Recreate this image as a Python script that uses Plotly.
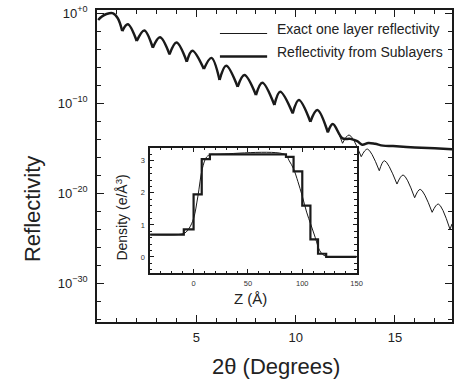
import plotly.graph_objects as go

# ---------------- main plot data: 2theta (deg) vs log10(reflectivity) ----------------
head_deg = [0.06, 0.23, 0.48, 0.81, 1.05, 1.27]
head_log = [-0.74, -0.38, -0.08, 0.0, -0.56, -1.97]

# fringe minima (cusps) and maxima shared by both curves
cusp_deg = [1.27, 2.00, 2.81, 3.65, 4.52, 5.38, 6.17, 7.08, 8.00, 8.93, 9.85, 10.74, 11.62]
cusp_log = [-1.97, -3.08, -3.82, -4.56, -5.38, -6.19, -7.41, -8.16, -9.08, -10.19, -11.11, -12.04, -13.22]
peak_deg = [1.55, 2.38, 3.17, 4.00, 4.80, 5.76, 6.50, 7.42, 8.32, 9.22, 10.16, 11.09, 11.87]
peak_log = [-1.22, -1.90, -2.67, -3.25, -4.15, -4.95, -5.82, -6.86, -7.71, -8.71, -9.63, -10.74, -12.30]

# sublayer reflectivity tail
sub_tail_deg = [12.36, 12.75, 13.10, 13.35, 13.66, 14.00, 14.40, 14.90, 16.00, 17.00, 17.87]
sub_tail_log = [-13.90, -13.95, -14.20, -14.60, -14.40, -14.50, -14.70, -14.75, -14.90, -15.00, -15.10]

# exact one-layer reflectivity continuation
exact_cusp_deg = [12.36, 13.30, 14.21, 15.10, 15.99, 16.87, 17.77]
exact_cusp_log = [-14.44, -15.93, -17.49, -18.97, -20.49, -22.11, -24.00]
exact_peak_deg = [12.69, 13.61, 14.47, 15.41, 16.27, 17.18]
exact_peak_log = [-13.52, -15.08, -16.38, -17.97, -19.56, -21.19]
exact_end_deg = [17.87]
exact_end_log = [-23.40]

y_tickvals = [0, -10, -20, -30]
y_ticktext = ["10<sup>+0</sup>", "10<sup>\u221210</sup>", "10<sup>\u221220</sup>", "10<sup>\u221230</sup>"]
x_tickvals = [5, 10, 15]

# ---------------- inset data: density profile ----------------
step_z = [-40, -9, 0, 7.5, 15, 85, 92, 100, 107.5, 114.5, 122, 150]
step_rho = [0.70, 0.86, 1.95, 3.05, 3.20, 3.12, 2.67, 1.60, 0.55, 0.10, 0.00, 0.00]
smooth_z = [-40, -14, -8, -4, 0, 4, 8, 12, 16, 20, 84, 88, 92, 96, 100, 104, 108, 112, 116, 120, 126, 150]
smooth_rho = [0.70, 0.70, 0.75, 0.90, 1.20, 1.90, 2.75, 3.12, 3.20, 3.20, 3.20, 3.00, 2.75, 2.35, 1.90, 1.40, 1.00, 0.60, 0.20, 0.05, 0.00, 0.00]


def arch_segments(cd, cl, pd, pl, n):
    xs, ys = [], []
    for i in range(n):
        xs += [cd[i], pd[i], cd[i + 1], None]
        ys += [cl[i], pl[i], cl[i + 1], None]
    return xs, ys


FONT = "Liberation Sans, Arial, Helvetica, sans-serif"
INK = "#1a1a1a"

# thick curve (sublayers)
sx, sy = list(head_deg) + [None], list(head_log) + [None]
ax, ay = arch_segments(cusp_deg, cusp_log, peak_deg, peak_log, len(cusp_deg) - 1)
sx += ax
sy += ay
sx += [cusp_deg[-1], peak_deg[-1]] + sub_tail_deg
sy += [cusp_log[-1], peak_log[-1]] + sub_tail_log

# thin curve (exact)
ex, ey = list(head_deg) + [None], list(head_log) + [None]
ex += ax
ey += ay
ex += [cusp_deg[-1], peak_deg[-1], exact_cusp_deg[0], None]
ey += [cusp_log[-1], peak_log[-1], exact_cusp_log[0], None]
bx, by = arch_segments(exact_cusp_deg, exact_cusp_log, exact_peak_deg, exact_peak_log, len(exact_peak_deg))
ex += bx
ey += by
ex += [exact_cusp_deg[-1]] + exact_end_deg
ey += [exact_cusp_log[-1]] + exact_end_log

fig = go.Figure()
fig.add_trace(go.Scatter(x=ex, y=ey, mode="lines", line=dict(color=INK, width=1, shape="spline"),
                         connectgaps=False, name="Exact one layer reflectivity", showlegend=False))
fig.add_trace(go.Scatter(x=sx, y=sy, mode="lines", line=dict(color=INK, width=2.5, shape="spline"),
                         connectgaps=False, name="Reflectivity from Sublayers", showlegend=False))

fig.add_trace(go.Scatter(x=smooth_z, y=smooth_rho, mode="lines", line=dict(color=INK, width=1, shape="spline"),
                         xaxis="x2", yaxis="y2", showlegend=False))
fig.add_trace(go.Scatter(x=step_z, y=step_rho, mode="lines", line=dict(color=INK, width=2.2, shape="hv"),
                         xaxis="x2", yaxis="y2", showlegend=False))

W, H = 458, 382
L, R, T, B = 97, 0, 10, 60
PW, PH = W - L - R, H - T - B


def px(xp):
    return (xp - L) / PW


def py(yp):
    return (H - B - yp) / PH


fig.update_layout(
    width=W, height=H,
    margin=dict(l=L, r=R, t=T, b=B, pad=0),
    paper_bgcolor="white", plot_bgcolor="white",
    font=dict(family=FONT, color="#222"),
    xaxis=dict(range=[0, 17.87], tickmode="array", tickvals=x_tickvals, ticks="inside", ticklen=7,
               tickwidth=1.2, tickcolor=INK, showline=True, linecolor=INK, linewidth=1.5, mirror="ticks",
               showgrid=False, zeroline=False, tickfont=dict(size=13, family=FONT, color="#222"),
               ticklabelstandoff=3,
               minor=dict(dtick=1, tick0=0, ticks="inside", ticklen=4, tickwidth=1.2, tickcolor=INK, showgrid=False)),
    yaxis=dict(range=[-34.3, 0.37], tickmode="array", tickvals=y_tickvals, ticktext=y_ticktext, ticks="inside",
               ticklen=7, tickwidth=1.2, tickcolor=INK, showline=True, linecolor=INK, linewidth=1.5,
               mirror="ticks", showgrid=False, zeroline=False,
               tickfont=dict(size=13, family=FONT, color="#222"), ticklabelstandoff=5,
               minor=dict(dtick=2, tick0=0, ticks="inside", ticklen=4, tickwidth=1.2, tickcolor=INK, showgrid=False)),
    xaxis2=dict(domain=[px(151), px(361)], anchor="y2", range=[-40, 150], tickmode="array",
                tickvals=[0, 50, 100, 150], ticks="inside", ticklen=4, tickwidth=1, tickcolor=INK,
                showline=True, linecolor=INK, linewidth=1.5, mirror="ticks", showgrid=False, zeroline=False,
                tickfont=dict(size=7.5, family=FONT, color="#333"), ticklabelstandoff=2,
                minor=dict(dtick=10, tick0=0, ticks="inside", ticklen=2.5, tickwidth=1, tickcolor=INK)),
    yaxis2=dict(domain=[py(273), py(148)], anchor="x2", range=[-0.5, 3.4], tickmode="array",
                tickvals=[0, 1, 2, 3], ticks="inside", ticklen=4, tickwidth=1, tickcolor=INK,
                showline=True, linecolor=INK, linewidth=1.5, mirror="ticks", showgrid=False, zeroline=False,
                tickfont=dict(size=7.5, family=FONT, color="#333"), ticklabelstandoff=2,
                minor=dict(dtick=0.2, tick0=0, ticks="inside", ticklen=2.5, tickwidth=1, tickcolor=INK)),
)

annos = [
    dict(text="Exact one layer reflectivity", x=px(278), y=py(29), xanchor="left", yanchor="middle",
         font=dict(size=14)),
    dict(text="Reflectivity from Sublayers", x=px(278), y=py(52), xanchor="left", yanchor="middle",
         font=dict(size=14)),
    dict(text="2\u03b8 (Degrees)", x=px(279), y=py(366), xanchor="center", yanchor="middle",
         font=dict(size=22)),
    dict(text="Reflectivity", x=px(31), y=py(209), xanchor="center", yanchor="middle", textangle=-90,
         font=dict(size=22)),
    dict(text="Z (\u00c5)", x=px(253), y=py(298), xanchor="center", yanchor="middle", font=dict(size=15)),
    dict(text="Density (e/\u00c5<sup>3</sup>)", x=px(121.5), y=py(217.5), xanchor="center", yanchor="middle",
         textangle=-90, font=dict(size=14)),
]
for a in annos:
    a.update(xref="paper", yref="paper", showarrow=False)
    a["font"] = dict(family=FONT, color="#222", **a["font"])
    fig.add_annotation(**a)

fig.add_shape(type="line", xref="paper", yref="paper", x0=px(222), x1=px(270), y0=py(33.5), y1=py(33.5),
              line=dict(color=INK, width=1))
fig.add_shape(type="line", xref="paper", yref="paper", x0=px(222), x1=px(270), y0=py(56.5), y1=py(56.5),
              line=dict(color=INK, width=2.5))

fig.write_html("out.html")
